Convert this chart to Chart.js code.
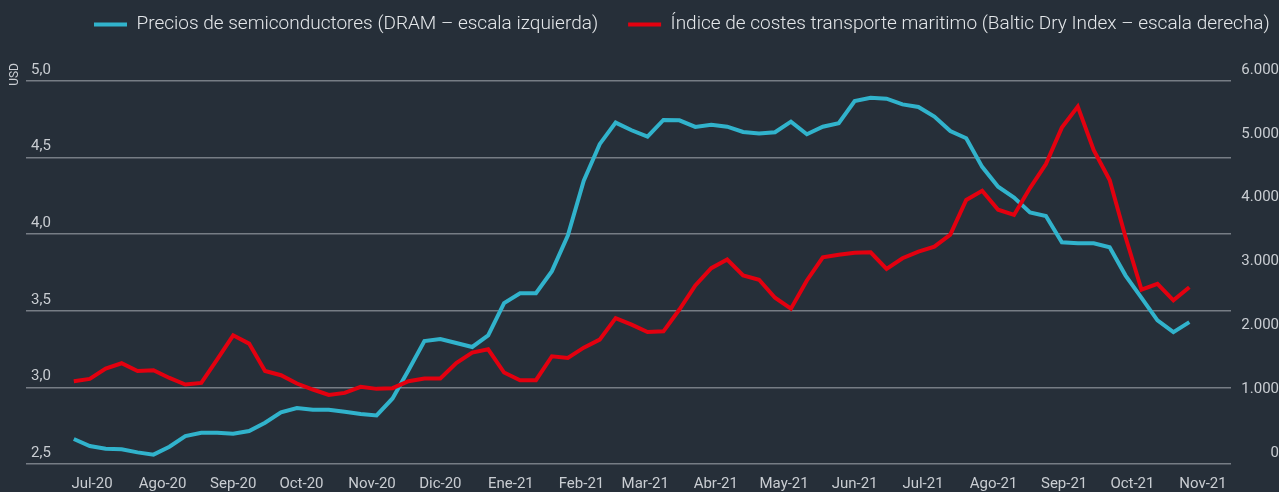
<!DOCTYPE html>
<html>
<head>
<meta charset="utf-8">
<script src="https://cdn.jsdelivr.net/npm/chart.js@4.4.1/dist/chart.umd.min.js"></script>
<style>
  html, body { margin: 0; padding: 0; background: #262f39; }
  #wrap { width: 1279px; height: 492px; }
</style>
</head>
<body>
<div id="wrap"><canvas id="dramChart"></canvas></div>
<script>
// month tick labels (x axis)
const monthLabels = ['Jul-20', 'Ago-20', 'Sep-20', 'Oct-20', 'Nov-20', 'Dic-20', 'Ene-21', 'Feb-21',
  'Mar-21', 'Abr-21', 'May-21', 'Jun-21', 'Jul-21', 'Ago-21', 'Sep-21', 'Oct-21', 'Nov-21'];
const leftTicks = [2.5, 3.0, 3.5, 4.0, 4.5, 5.0];
const rightTicks = [0, 1000, 2000, 3000, 4000, 5000, 6000];

// weekly values
const dram = [2.663, 2.617, 2.600, 2.596, 2.576, 2.561, 2.613, 2.682, 2.704, 2.704,
  2.697, 2.715, 2.769, 2.837, 2.865, 2.854, 2.854, 2.841, 2.826, 2.817,
  2.928, 3.112, 3.303, 3.316, 3.290, 3.264, 3.340, 3.550, 3.615, 3.615,
  3.759, 3.991, 4.349, 4.588, 4.729, 4.679, 4.637, 4.746, 4.744, 4.701,
  4.714, 4.702, 4.668, 4.657, 4.666, 4.735, 4.653, 4.702, 4.725, 4.870,
  4.891, 4.885, 4.848, 4.831, 4.768, 4.674, 4.627, 4.440, 4.310, 4.240,
  4.143, 4.119, 3.947, 3.941, 3.941, 3.915, 3.730, 3.585, 3.438, 3.361,
  3.426];
const bdi = [1297, 1333, 1495, 1578, 1458, 1469, 1348, 1245, 1270, 1640,
  2016, 1886, 1458, 1391, 1261, 1167, 1083, 1114, 1208, 1177,
  1188, 1297, 1339, 1339, 1583, 1745, 1797, 1433, 1313, 1313,
  1688, 1661, 1823, 1948, 2286, 2183, 2067, 2078, 2420, 2797,
  3067, 3203, 2953, 2886, 2605, 2433, 2875, 3239, 3277, 3308,
  3317, 3058, 3223, 3328, 3406, 3594, 4136, 4281, 3984, 3902,
  4323, 4698, 5270, 5598, 4917, 4448, 3552, 2730, 2823, 2563,
  2770];

// x positions in days from 1 Jul 2020 (first week ends 23 Jun 2020)
const dayMs = 864e5;
const origin = Date.UTC(2020, 6, 1);
const monthDays = monthLabels.map((m, k) => (Date.UTC(2020, 6 + k, 1) - origin) / dayMs);
const weekX = dram.map((v, i) => -8 + 7 * i);

const textColor = '#c9cdd2';
const gridColor = '#767d85';
Chart.defaults.font.family = 'Roboto';

// put the legend up in the top strip, starting where the reference starts it
const legendPlace = {
  id: 'legendPlace',
  afterLayout(chart) {
    const lg = chart.legend;
    const pad = lg.options.labels.padding;
    const dx = 94 - pad - lg.left;
    const dy = -15 - lg.top;
    lg.left += dx; lg.right += dx;
    lg.top += dy; lg.bottom += dy;
  }
};

const dramChart = new Chart(document.getElementById('dramChart'), {
  type: 'line',
  data: {
    datasets: [{
      label: 'Precios de semiconductores (DRAM – escala izquierda)',
      data: dram.map((v, i) => ({ x: weekX[i], y: v })),
      yAxisID: 'yLeft',
      borderColor: '#31b3cc',
      backgroundColor: '#31b3cc',
      borderWidth: 4,
      pointRadius: 0,
      tension: 0,
      order: 1
    }, {
      label: 'Índice de costes transporte maritimo (Baltic Dry Index – escala derecha)',
      data: bdi.map((v, i) => ({ x: weekX[i], y: v })),
      yAxisID: 'yRight',
      borderColor: '#e3000f',
      backgroundColor: '#e3000f',
      borderWidth: 4,
      pointRadius: 0,
      tension: 0,
      order: 0
    }]
  },
  options: {
    responsive: true,
    maintainAspectRatio: false,
    animation: false,
    layout: { padding: { top: 4, right: 0, left: 0, bottom: 0 } },
    plugins: {
      legend: {
        align: 'start',
        labels: {
          boxWidth: 33,
          boxHeight: 4,
          padding: 30,
          color: '#e4e7ea',
          font: { size: 19, weight: 300 },
          sort: (a, b) => a.datasetIndex - b.datasetIndex,
          generateLabels: (chart) => Chart.defaults.plugins.legend.labels.generateLabels(chart)
            .map(it => Object.assign(it, { lineWidth: 0, fillStyle: it.strokeStyle }))
        }
      },
      tooltip: { enabled: false }
    },
    scales: {
      x: {
        type: 'linear',
        min: -29,
        max: 500.3,
        grid: { display: false, drawTicks: false },
        border: { display: false },
        afterBuildTicks: (s) => { s.ticks = monthDays.map(v => ({ value: v })); },
        afterFit: (s) => { s.height = 28; },
        ticks: {
          autoSkip: false,
          maxRotation: 0,
          padding: 11,
          color: textColor,
          font: { size: 15 },
          callback: (v, i) => monthLabels[i]
        }
      },
      yLeft: {
        position: 'left',
        min: 2.5,
        max: 5.118,
        afterBuildTicks: (s) => { s.ticks = leftTicks.map(v => ({ value: v })); },
        afterFit: (s) => { s.width = 26; },
        grid: { color: gridColor, lineWidth: 1.5, drawTicks: false },
        border: { display: false },
        ticks: {
          mirror: true,
          padding: 5,
          labelOffset: -11,
          color: textColor,
          font: { size: 15 },
          callback: (v) => v.toFixed(1).replace('.', ',')
        },
        title: {
          display: true,
          text: 'USD',
          align: 'end',
          color: textColor,
          font: { size: 12 },
          padding: { top: 8, bottom: 4 }
        }
      },
      yRight: {
        position: 'right',
        min: 0,
        max: 6282,
        afterBuildTicks: (s) => { s.ticks = rightTicks.map(v => ({ value: v })); },
        afterFit: (s) => { s.width = 48; },
        grid: { display: false, drawTicks: false },
        border: { display: false },
        ticks: {
          padding: 9,
          crossAlign: 'far',
          labelOffset: -11,
          color: textColor,
          font: { size: 15 },
          callback: (v) => String(v).replace(/\B(?=(\d{3})+(?!\d))/g, '.')
        }
      }
    }
  },
  plugins: [legendPlace]
});
</script>
</body>
</html>
